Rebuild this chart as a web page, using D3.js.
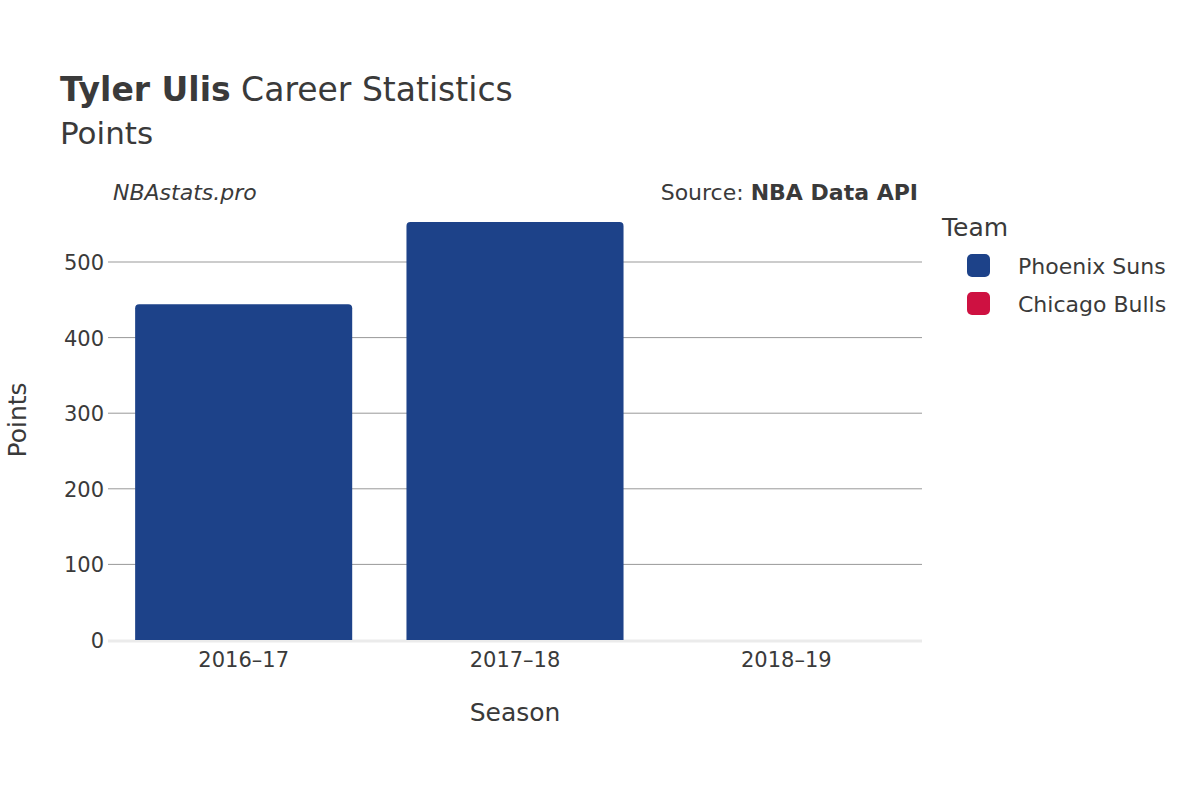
<!DOCTYPE html>
<html><head><meta charset="utf-8">
<script src="https://cdn.jsdelivr.net/npm/d3@7"></script>
<style>body{margin:0;background:#fff}text{font-family:"DejaVu Sans",sans-serif;fill:#3a3a3a}</style>
</head><body><svg id="c" width="1200" height="800"></svg>
<script>
// Data
const seasons = ['2016–17', '2017–18', '2018–19'];
const teams = ['Phoenix Suns', 'Chicago Bulls'];
const teamColors = ['#1d4289', '#ce1141'];
const points = [
  { season: '2016–17', team: 'Phoenix Suns', value: 444 },
  { season: '2017–18', team: 'Phoenix Suns', value: 553 },
  { season: '2018–19', team: 'Chicago Bulls', value: 0 },
];
const yTicks = [0, 100, 200, 300, 400, 500];

const svg = d3.select('#c');
const x = d3.scaleBand().domain(seasons).range([108, 922]).paddingInner(0.2).paddingOuter(0.1);
const y = d3.scaleLinear().domain([0, 500]).range([640, 262]);
const color = d3.scaleOrdinal().domain(teams).range(teamColors);

// gridlines
svg.append('g').selectAll('line').data(yTicks.filter(d => d > 0)).join('line')
  .attr('x1', 108).attr('x2', 922).attr('y1', d => y(d)).attr('y2', d => y(d))
  .attr('stroke', '#999').attr('stroke-width', 1);
svg.append('line').attr('x1', 108).attr('x2', 922).attr('y1', y(0) + 1).attr('y2', y(0) + 1)
  .attr('stroke', '#ebebeb').attr('stroke-width', 3);

// bars with rounded tops
const r = 4;
svg.append('g').selectAll('path').data(points.filter(d => d.value > 0)).join('path')
  .attr('fill', d => color(d.team))
  .attr('d', d => {
    const x0 = x(d.season), w = x.bandwidth(), y0 = y(d.value), yb = y(0);
    return `M${x0},${yb}V${y0 + r}Q${x0},${y0} ${x0 + r},${y0}H${x0 + w - r}Q${x0 + w},${y0} ${x0 + w},${y0 + r}V${yb}Z`;
  });

// axes labels
svg.append('g').selectAll('text').data(yTicks).join('text')
  .attr('x', 104).attr('y', d => y(d) + 8).attr('text-anchor', 'end')
  .attr('font-size', 21).text(d => d);
svg.append('g').selectAll('text').data(seasons).join('text')
  .attr('x', d => x(d) + x.bandwidth() / 2).attr('y', 667).attr('text-anchor', 'middle')
  .attr('font-size', 21).text(d => d);
svg.append('text').attr('x', 515).attr('y', 721).attr('text-anchor', 'middle').attr('font-size', 25).text('Season');
svg.append('text').attr('transform', 'translate(26,420) rotate(-90)').attr('text-anchor', 'middle').attr('font-size', 25).text('Points');

// titles
const t = svg.append('text').attr('x', 60).attr('y', 101).attr('font-size', 33);
t.append('tspan').attr('font-weight', 'bold').text('Tyler Ulis');
t.append('tspan').text(' Career Statistics');
svg.append('text').attr('x', 60).attr('y', 144).attr('font-size', 31).text('Points');
svg.append('text').attr('x', 113).attr('y', 200).attr('font-size', 22).attr('font-style', 'italic').text('NBAstats.pro');
const s = svg.append('text').attr('x', 918).attr('y', 200).attr('font-size', 22).attr('text-anchor', 'end');
s.append('tspan').text('Source: ');
s.append('tspan').attr('font-weight', 'bold').text('NBA Data API');

// legend
svg.append('text').attr('x', 942).attr('y', 236).attr('font-size', 25).text('Team');
const lg = svg.append('g').selectAll('g').data(teams).join('g')
  .attr('transform', (d, i) => `translate(967,${254 + i * 38})`);
lg.append('rect').attr('width', 23).attr('height', 23).attr('rx', 5).attr('fill', d => color(d));
lg.append('text').attr('x', 51).attr('y', 20).attr('font-size', 22).text(d => d);
</script></body></html>
